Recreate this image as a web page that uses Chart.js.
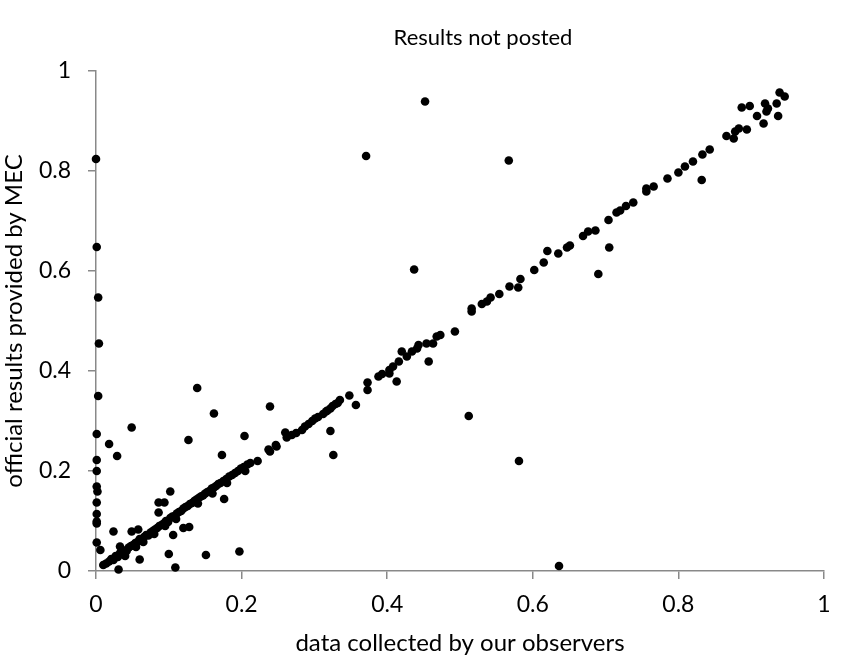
<!DOCTYPE html>
<html>
<head>
<meta charset="utf-8">
<script src="https://cdn.jsdelivr.net/npm/chart.js@4/dist/chart.umd.min.js"></script>
<style>
html,body{margin:0;padding:0;background:#fff;}
#wrap{width:845px;height:659px;}
</style>
</head>
<body>
<div id="wrap"><canvas id="c" width="845" height="659"></canvas></div>
<script>
const chartTitle = "Results not posted";
const xTitle = "data collected by our observers";
const yTitle = "official results provided by MEC";
const tickValues = [0, 0.2, 0.4, 0.6, 0.8, 1];
const tickLabels = ["0", "0.2", "0.4", "0.6", "0.8", "1"];

// x: data collected by our observers, y: official results provided by MEC
const observers = [
  0.000,0.001,0.003,0.004,0.003,0.001,0.001,0.001,0.001,0.002,0.001,0.001,0.001,0.001,0.001,0.006,
  0.018,0.029,0.049,0.024,0.049,0.058,0.031,0.033,0.060,0.100,0.109,0.102,0.086,0.094,0.086,0.106,0.120,0.128,
  0.151,0.197,0.176,0.127,0.139,0.162,0.204,0.239,0.173,0.222,
  0.322,0.326,0.357,0.373,0.413,0.457,0.512,0.581,0.636,0.437,0.371,0.452,0.567,0.690,0.705,0.832,
  0.010,0.014,0.018,0.021,0.024,0.027,0.030,0.033,0.036,0.039,0.042,0.045,0.048,0.051,0.054,0.057,0.060,0.063,
  0.066,0.069,0.072,0.075,0.078,0.081,0.084,0.087,0.090,0.093,0.096,0.099,0.102,0.105,0.108,0.111,0.114,0.117,
  0.120,0.123,0.126,0.129,0.132,0.135,0.138,0.141,0.144,0.147,0.150,0.153,0.156,0.159,0.162,0.165,0.168,0.171,
  0.175,0.179,0.183,0.187,0.191,0.195,0.199,0.203,0.208,0.212,0.237,0.239,0.247,
  0.040,0.055,0.065,0.080,0.095,0.110,0.140,0.160,0.180,0.205,
  0.248,0.260,0.262,0.269,0.283,0.292,0.301,0.312,0.322,0.329,0.335,0.348,0.373,0.388,0.393,0.403,0.403,0.408,
  0.416,0.420,0.427,0.434,0.441,0.443,0.454,0.463,0.468,0.473,0.493,0.516,0.516,0.530,0.537,0.542,
  0.275,0.287,0.297,0.305,0.316,0.318,0.325,0.332,
  0.554,0.568,0.580,0.583,0.602,0.615,0.620,0.635,0.647,0.651,0.669,0.676,0.686,0.704,0.715,0.720,0.728,0.738,
  0.756,0.756,0.766,0.785,0.800,0.809,0.820,0.833,0.843,0.866,0.876,0.878,0.883,0.894,0.887,0.898,0.908,0.917,
  0.919,0.921,0.923,0.935,0.937,0.939,0.946
];
const mec = [
  0.824,0.648,0.547,0.455,0.350,0.274,0.222,0.200,0.169,0.159,0.137,0.114,0.099,0.095,0.057,0.042,
  0.254,0.230,0.287,0.079,0.079,0.083,0.003,0.049,0.023,0.034,0.007,0.159,0.137,0.137,0.117,0.072,0.086,0.088,
  0.032,0.039,0.144,0.262,0.366,0.315,0.270,0.329,0.232,0.220,
  0.280,0.232,0.332,0.362,0.379,0.419,0.310,0.220,0.010,0.603,0.830,0.939,0.821,0.594,0.647,0.782,
  0.012,0.015,0.019,0.024,0.022,0.030,0.028,0.036,0.035,0.041,0.040,0.047,0.050,0.052,0.056,0.058,0.064,0.062,
  0.068,0.072,0.071,0.077,0.080,0.083,0.086,0.090,0.092,0.095,0.100,0.098,0.106,0.109,0.110,0.115,0.118,0.120,
  0.125,0.128,0.130,0.134,0.136,0.140,0.143,0.146,0.149,0.151,0.155,0.158,0.160,0.165,0.167,0.170,0.174,0.176,
  0.180,0.184,0.189,0.192,0.196,0.200,0.205,0.208,0.213,0.216,0.243,0.239,0.252,
  0.030,0.048,0.058,0.074,0.090,0.104,0.135,0.155,0.176,0.200,
  0.249,0.277,0.267,0.272,0.282,0.294,0.305,0.314,0.325,0.334,0.342,0.351,0.377,0.389,0.394,0.402,0.395,0.409,
  0.419,0.439,0.429,0.439,0.445,0.452,0.455,0.455,0.469,0.472,0.479,0.519,0.525,0.534,0.539,0.547,
  0.276,0.289,0.300,0.308,0.319,0.321,0.330,0.336,
  0.554,0.569,0.567,0.584,0.602,0.617,0.640,0.635,0.647,0.651,0.670,0.679,0.681,0.702,0.717,0.721,0.730,0.737,
  0.765,0.759,0.769,0.785,0.797,0.809,0.819,0.833,0.843,0.870,0.865,0.879,0.885,0.883,0.927,0.930,0.910,0.895,
  0.935,0.919,0.925,0.935,0.910,0.957,0.949
];

const points = observers.map((x, i) => ({x: x, y: mec[i]}));
const FONT = "Lato, 'Noto Sans', sans-serif";
const axisColor = '#898989';

function axis(titleText, isX) {
  return {
    type: 'linear', min: 0, max: 1,
    afterBuildTicks: s => { s.ticks = tickValues.map(v => ({value: v})); },
    grid: { display: true, drawOnChartArea: false, drawTicks: true, tickLength: 8, color: axisColor, lineWidth: 1.5 },
    border: { display: true, color: axisColor, width: 1.5 },
    ticks: { color: '#000', font: { family: FONT, size: 23 }, padding: isX ? 12 : 17,
             callback: (v, i) => tickLabels[i] },
    title: { display: true, text: titleText, color: '#000', font: { family: FONT, size: 24 },
             padding: isX ? {top: 0, bottom: 1} : {top: 0, bottom: 0} },
    afterFit: s => {
      if (isX) s.height = 88; else s.width = 96;
      s.paddingLeft = 0; s.paddingRight = 0; s.paddingTop = 0; s.paddingBottom = 0;
    }
  };
}

const titlePlugin = {
  id: 'fixedTitle',
  afterDraw(chart) {
    const ctx = chart.ctx;
    ctx.save();
    ctx.font = "22px " + FONT;
    ctx.fillStyle = '#000';
    ctx.textAlign = 'center';
    ctx.textBaseline = 'middle';
    ctx.fillText(chartTitle, 483, 38);
    ctx.restore();
  }
};

new Chart(document.getElementById('c'), {
  type: 'scatter',
  data: { datasets: [{ data: points, backgroundColor: '#000', borderWidth: 0, pointRadius: 4.3, pointHoverRadius: 4.3, clip: false }] },
  options: {
    responsive: false, animation: false,
    layout: { padding: { left: 0, right: 21, top: 71, bottom: 0 } },
    plugins: { legend: { display: false }, tooltip: { enabled: false }, title: { display: false } },
    scales: { x: axis(xTitle, true), y: axis(yTitle, false) }
  },
  plugins: [titlePlugin]
});
</script>
</body>
</html>
